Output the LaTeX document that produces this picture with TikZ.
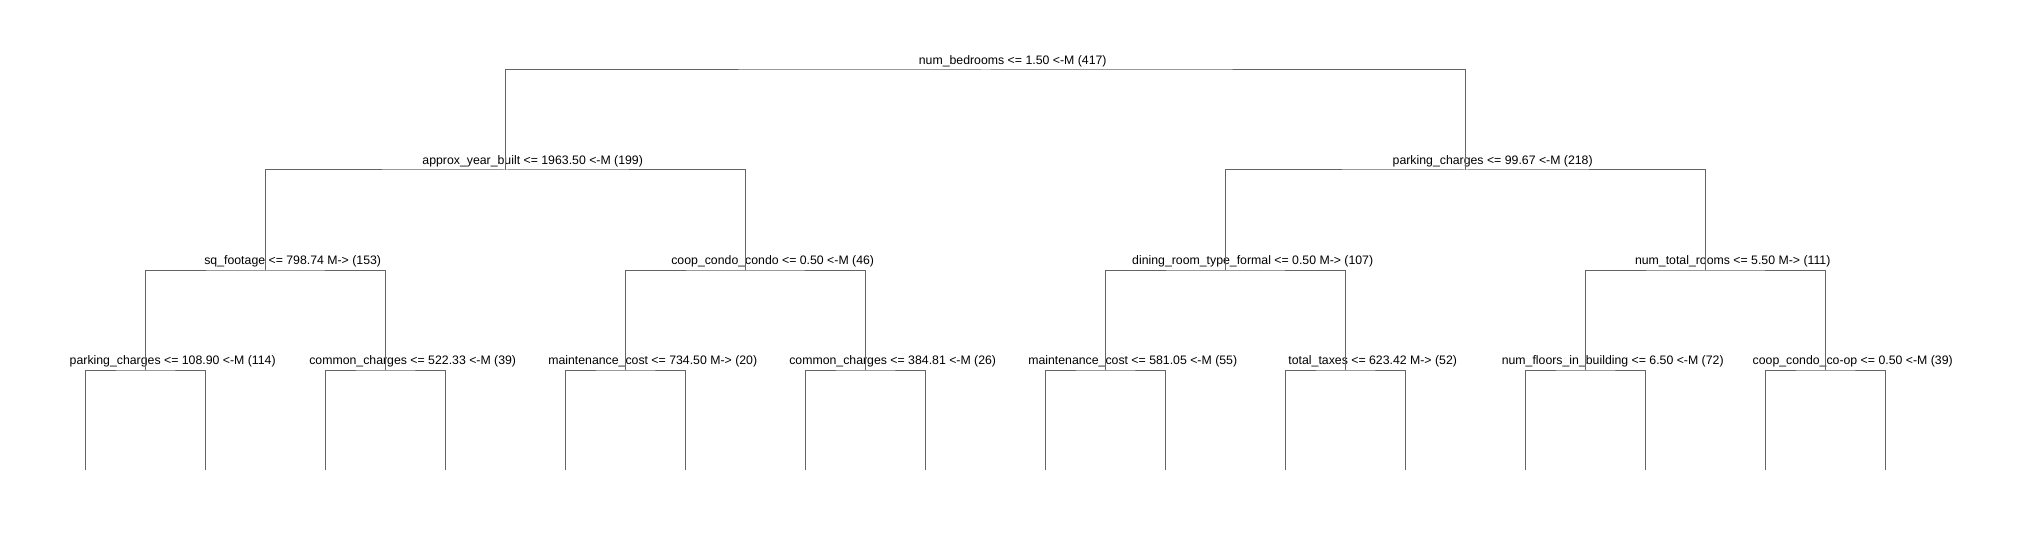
\documentclass[tikz,border=0pt]{standalone}
\usepackage{fontspec}
\setmainfont{Liberation Sans}
\usepackage{xcolor}
\usepackage{tikz}
\definecolor{branchgray}{HTML}{646464}

\tikzset{
  split/.style={anchor=base,xshift=27pt,yshift=5.5pt,inner sep=0pt,
    font=\fontsize{12.3}{14}\selectfont},
  branch/.style={draw=branchgray,line width=1pt}
}

\begin{document}
\begin{tikzpicture}[x=1pt,y=-1pt]
  \useasboundingbox (0,0) rectangle (2020,540);

  % split points
  \coordinate (root) at (985.7,70);
  \coordinate (yrbuilt) at (505.7,170);
  \coordinate (park) at (1465.7,170);
  \coordinate (sqft) at (265.7,270);
  \coordinate (condo) at (745.7,270);
  \coordinate (dining) at (1225.7,270);
  \coordinate (rooms) at (1705.7,270);
  \coordinate (parkb) at (145.7,370);
  \coordinate (commona) at (385.7,370);
  \coordinate (mainta) at (625.7,370);
  \coordinate (commonb) at (865.7,370);
  \coordinate (maintb) at (1105.7,370);
  \coordinate (taxes) at (1345.7,370);
  \coordinate (floors) at (1585.7,370);
  \coordinate (coop) at (1825.7,370);

  % leaf ends
  \coordinate (lf1) at (85.7,470);
  \coordinate (lf2) at (205.7,470);
  \coordinate (lf3) at (325.7,470);
  \coordinate (lf4) at (445.7,470);
  \coordinate (lf5) at (565.7,470);
  \coordinate (lf6) at (685.7,470);
  \coordinate (lf7) at (805.7,470);
  \coordinate (lf8) at (925.7,470);
  \coordinate (lf9) at (1045.7,470);
  \coordinate (lf10) at (1165.7,470);
  \coordinate (lf11) at (1285.7,470);
  \coordinate (lf12) at (1405.7,470);
  \coordinate (lf13) at (1525.7,470);
  \coordinate (lf14) at (1645.7,470);
  \coordinate (lf15) at (1765.7,470);
  \coordinate (lf16) at (1885.7,470);

  % labels
  \node[split] (rootlab) at (root) {num\_bedrooms <= 1.50 <-M (417)};
  \node[split] (yrbuiltlab) at (yrbuilt) {approx\_year\_built <= 1963.50 <-M (199)};
  \node[split] (parklab) at (park) {parking\_charges <= 99.67 <-M (218)};
  \node[split] (sqftlab) at (sqft) {sq\_footage <= 798.74 M-> (153)};
  \node[split] (condolab) at (condo) {coop\_condo\_condo <= 0.50 <-M (46)};
  \node[split] (dininglab) at (dining) {dining\_room\_type\_formal <= 0.50 M-> (107)};
  \node[split] (roomslab) at (rooms) {num\_total\_rooms <= 5.50 M-> (111)};
  \node[split] (parkblab) at (parkb) {parking\_charges <= 108.90 <-M (114)};
  \node[split] (commonalab) at (commona) {common\_charges <= 522.33 <-M (39)};
  \node[split] (maintalab) at (mainta) {maintenance\_cost <= 734.50 M-> (20)};
  \node[split] (commonblab) at (commonb) {common\_charges <= 384.81 <-M (26)};
  \node[split] (maintblab) at (maintb) {maintenance\_cost <= 581.05 <-M (55)};
  \node[split] (taxeslab) at (taxes) {total\_taxes <= 623.42 M-> (52)};
  \node[split] (floorslab) at (floors) {num\_floors\_in\_building <= 6.50 <-M (72)};
  \node[split] (cooplab) at (coop) {coop\_condo\_co-op <= 0.50 <-M (39)};

  % branches
  \draw[branch] (yrbuilt) |- (root) -| (park);
  \draw[branch] (sqft) |- (yrbuilt) -| (condo);
  \draw[branch] (dining) |- (park) -| (rooms);
  \draw[branch] (parkb) |- (sqft) -| (commona);
  \draw[branch] (mainta) |- (condo) -| (commonb);
  \draw[branch] (maintb) |- (dining) -| (taxes);
  \draw[branch] (floors) |- (rooms) -| (coop);

  \draw[branch] (lf1) |- (parkb) -| (lf2);
  \draw[branch] (lf3) |- (commona) -| (lf4);
  \draw[branch] (lf5) |- (mainta) -| (lf6);
  \draw[branch] (lf7) |- (commonb) -| (lf8);
  \draw[branch] (lf9) |- (maintb) -| (lf10);
  \draw[branch] (lf11) |- (taxes) -| (lf12);
  \draw[branch] (lf13) |- (floors) -| (lf14);
  \draw[branch] (lf15) |- (coop) -| (lf16);
\end{tikzpicture}
\end{document}
